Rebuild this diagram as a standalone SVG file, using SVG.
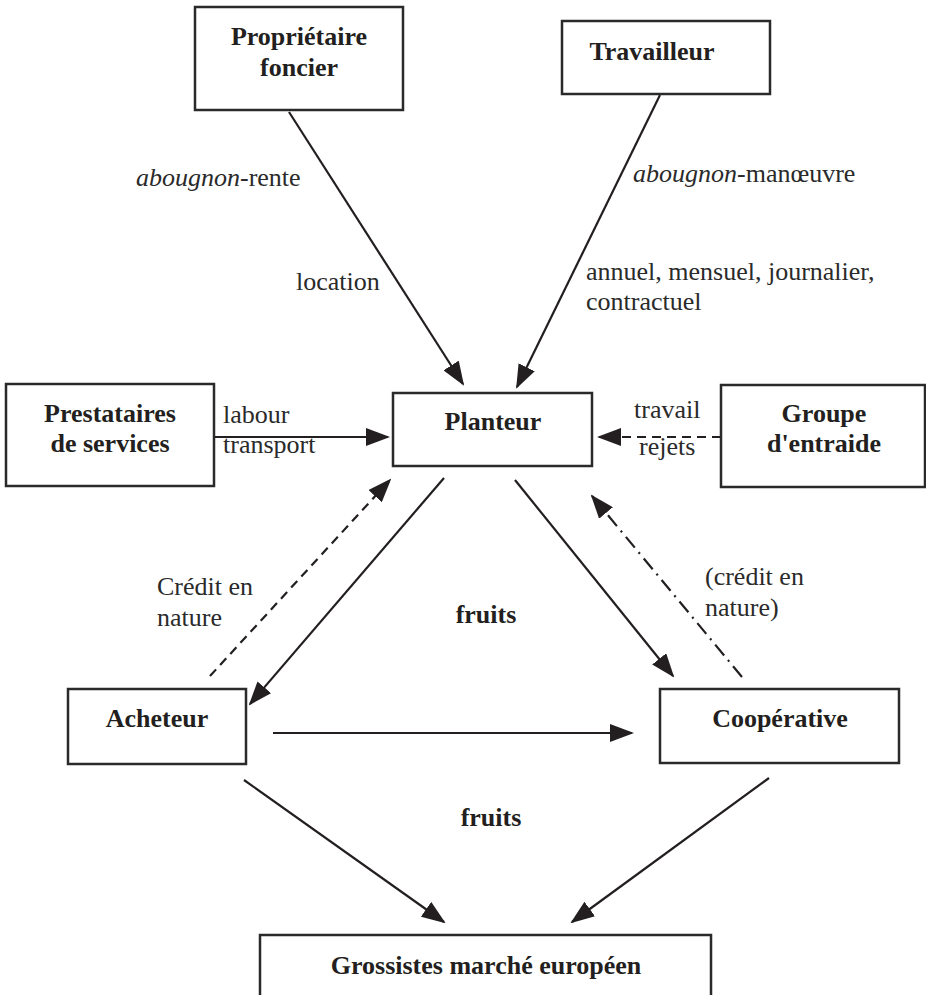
<svg xmlns="http://www.w3.org/2000/svg" width="926" height="995" viewBox="0 0 926 995">
<defs>
<style>
.box{fill:#fff;stroke:#2a2a2a;stroke-width:2.5}
.lb{font-family:"Liberation Serif","Times New Roman",serif;font-size:26px;font-weight:bold;fill:#231f20;text-anchor:middle}
.tx{font-family:"Liberation Serif","Times New Roman",serif;font-size:26px;fill:#2a2a2a}
.it{font-style:italic}
.ln{fill:none;stroke:#231f20;stroke-width:2.2;marker-end:url(#ah)}
.dash{stroke-dasharray:9,6}
.dashdot{stroke-dasharray:14,6,2,6}
</style>
<marker id="ah" viewBox="0 0 24 18" refX="22" refY="9" markerWidth="24" markerHeight="18" markerUnits="userSpaceOnUse" orient="auto">
<path d="M0,0 L24,9 L0,18 z" fill="#231f20"/>
</marker>
</defs>
<rect width="926" height="995" fill="#fff"/>
<g id="connectors">
<line class="ln" x1="289" y1="112" x2="463" y2="384"/>
<line class="ln" x1="660" y1="95" x2="517" y2="387"/>
<line class="ln" x1="214" y1="437" x2="388" y2="437"/>
<line class="ln dash" x1="721" y1="437" x2="599" y2="437"/>
<line class="ln" x1="444" y1="478" x2="250" y2="704"/>
<line class="ln dash" x1="210" y1="676" x2="390" y2="480"/>
<line class="ln" x1="515" y1="480" x2="673" y2="676"/>
<line class="ln dashdot" x1="742" y1="677" x2="592" y2="496"/>
<line class="ln" x1="273" y1="733" x2="632" y2="733"/>
<line class="ln" x1="244" y1="780" x2="444" y2="922"/>
<line class="ln" x1="769" y1="778" x2="572" y2="922"/>
</g>
<g id="edge-labels">
<text class="tx" x="136" y="186"><tspan class="it">abougnon</tspan>-rente</text>
<text class="tx" x="296" y="290">location</text>
<text class="tx" x="633" y="182"><tspan class="it">abougnon</tspan>-manœuvre</text>
<text class="tx" x="586" y="280">annuel, mensuel, journalier,</text>
<text class="tx" x="586" y="310">contractuel</text>
<text class="tx" x="223" y="423">labour</text>
<text class="tx" x="223" y="453">transport</text>
<text class="tx" x="634" y="418">travail</text>
<text class="tx" x="639" y="455">rejets</text>
<text class="tx" x="157" y="595">Crédit en</text>
<text class="tx" x="157" y="626">nature</text>
<text class="tx" x="705" y="585">(crédit en</text>
<text class="tx" x="705" y="616">nature)</text>
<text class="lb" x="486" y="623">fruits</text>
<text class="lb" x="491" y="826">fruits</text>
</g>
<g id="proprietaire">
<rect class="box" x="195" y="7" width="208" height="103"/>
<text class="lb" x="299" y="45">Propriétaire</text>
<text class="lb" x="299" y="76">foncier</text>
</g>
<g id="travailleur">
<rect class="box" x="562" y="21" width="208" height="73"/>
<text class="lb" x="652" y="60">Travailleur</text>
</g>
<g id="prestataires">
<rect class="box" x="6" y="384" width="208" height="102"/>
<text class="lb" x="110" y="422">Prestataires</text>
<text class="lb" x="110" y="452">de services</text>
</g>
<g id="planteur">
<rect class="box" x="393" y="393" width="199" height="73"/>
<text class="lb" x="493" y="430">Planteur</text>
</g>
<g id="groupe">
<rect class="box" x="721" y="385" width="204" height="102"/>
<text class="lb" x="824" y="422">Groupe</text>
<text class="lb" x="824" y="452">d'entraide</text>
</g>
<g id="acheteur">
<rect class="box" x="68" y="689" width="178" height="75"/>
<text class="lb" x="157" y="727">Acheteur</text>
</g>
<g id="cooperative">
<rect class="box" x="660" y="689" width="239" height="74"/>
<text class="lb" x="780" y="727">Coopérative</text>
</g>
<g id="grossistes">
<rect class="box" x="260" y="935" width="451" height="80"/>
<text class="lb" x="486" y="974">Grossistes marché européen</text>
</g>
</svg>
